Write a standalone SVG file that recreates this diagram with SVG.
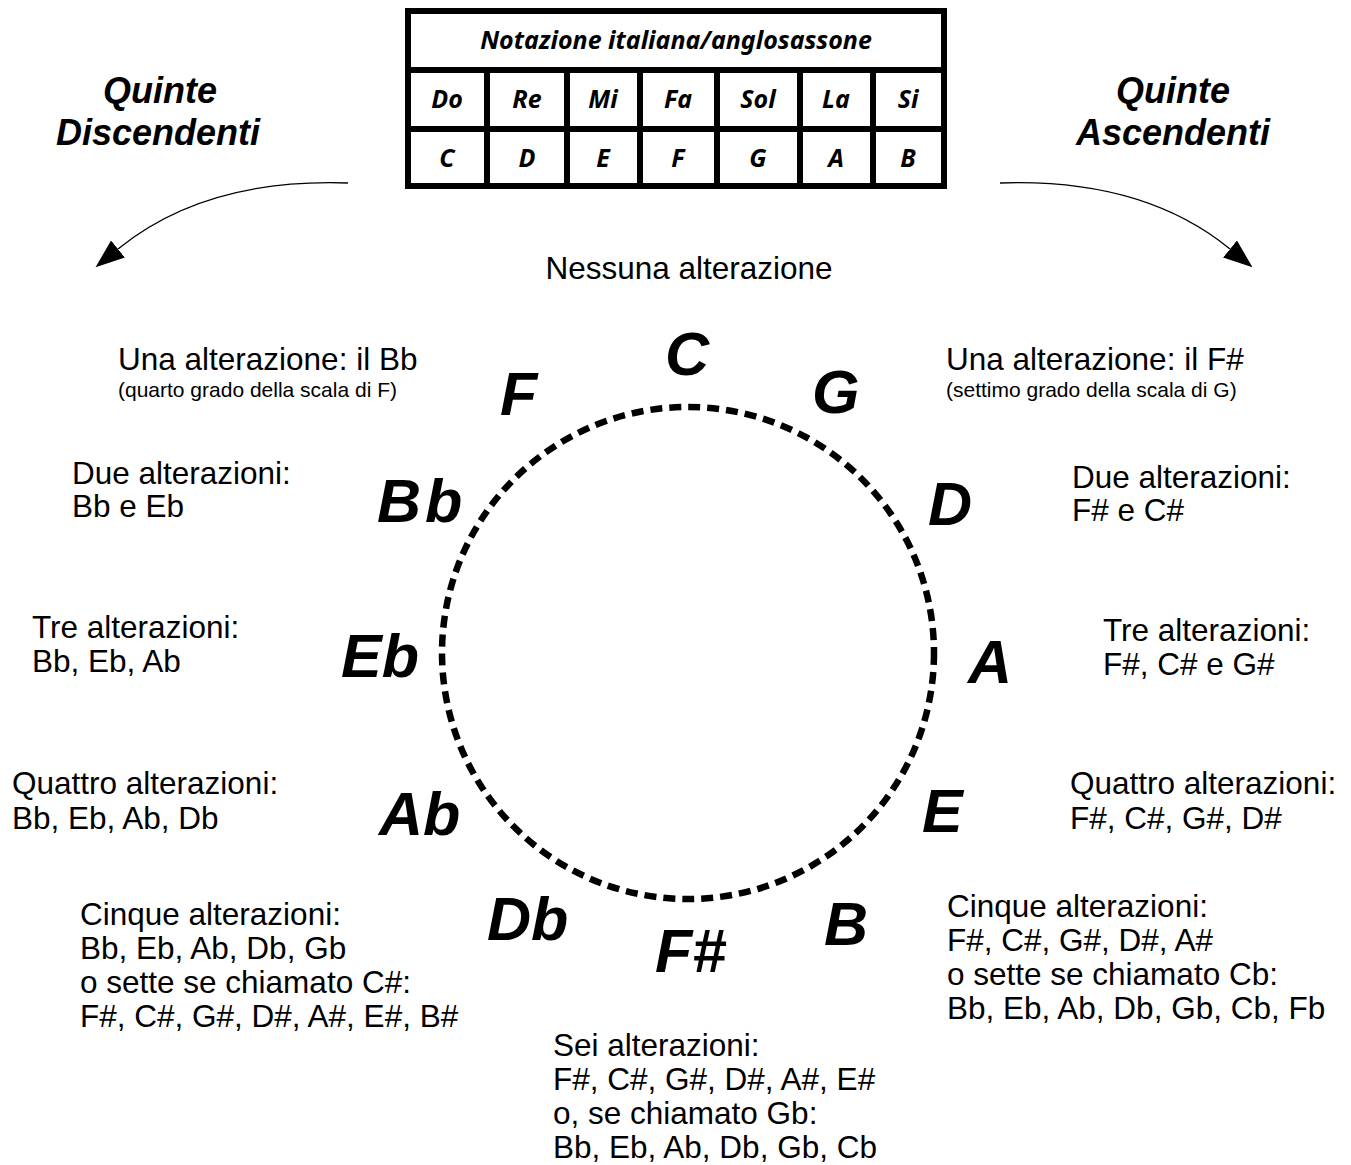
<svg xmlns="http://www.w3.org/2000/svg" width="1351" height="1165" viewBox="0 0 1351 1165">
<style>
.body{font-family:"Liberation Sans",Arial,sans-serif;font-size:31.5px;fill:#000}
.small{font-family:"Liberation Sans",Arial,sans-serif;font-size:21px;fill:#000}
.title{font-family:"Liberation Sans",Arial,sans-serif;font-size:36px;font-weight:bold;font-style:italic;fill:#000;text-anchor:middle}
.note{font-family:"Liberation Sans",Arial,sans-serif;font-size:61px;font-weight:bold;font-style:italic;fill:#000}
.tab{font-family:"Noto Sans","Open Sans",sans-serif;font-size:25px;font-weight:bold;font-style:italic;fill:#000;text-anchor:middle}
.grid{stroke:#000;stroke-width:6;fill:none}
.conn{stroke:#000;stroke-width:1.3;fill:none}
</style>
<defs>
<marker id="ah" markerUnits="userSpaceOnUse" markerWidth="32" markerHeight="26" refX="0" refY="11" orient="auto">
<path d="M0,0 L29,11 L0,22 z" fill="#000"/>
</marker>
</defs>
<rect width="1351" height="1165" fill="#fff"/>

<g id="table">
<rect class="grid" x="408" y="11" width="536" height="175" fill="#fff"/>
<line class="grid" x1="408" y1="70" x2="944" y2="70"/>
<line class="grid" x1="408" y1="129" x2="944" y2="129"/>
<line class="grid" x1="487" y1="70" x2="487" y2="186"/>
<line class="grid" x1="567" y1="70" x2="567" y2="186"/>
<line class="grid" x1="640" y1="70" x2="640" y2="186"/>
<line class="grid" x1="717" y1="70" x2="717" y2="186"/>
<line class="grid" x1="800" y1="70" x2="800" y2="186"/>
<line class="grid" x1="873" y1="70" x2="873" y2="186"/>
<text class="tab" x="676" y="49">Notazione italiana/anglosassone</text>
<text class="tab" x="447" y="108">Do</text>
<text class="tab" x="527" y="108">Re</text>
<text class="tab" x="603" y="108">Mi</text>
<text class="tab" x="678" y="108">Fa</text>
<text class="tab" x="758" y="108">Sol</text>
<text class="tab" x="836" y="108">La</text>
<text class="tab" x="908" y="108">Si</text>
<text class="tab" x="447" y="167">C</text>
<text class="tab" x="527" y="167">D</text>
<text class="tab" x="603" y="167">E</text>
<text class="tab" x="678" y="167">F</text>
<text class="tab" x="758" y="167">G</text>
<text class="tab" x="836" y="167">A</text>
<text class="tab" x="908" y="167">B</text>
</g>

<g id="title-desc">
<text class="title" x="160" y="103">Quinte</text>
<text class="title" x="158" y="145">Discendenti</text>
</g>
<g id="title-asc">
<text class="title" x="1173" y="103">Quinte</text>
<text class="title" x="1173" y="145">Ascendenti</text>
</g>

<g id="connectors">
<path class="conn" d="M348,183 Q205,178 118,249" marker-end="url(#ah)"/>
<path class="conn" d="M1000,183 Q1143,178 1230,249" marker-end="url(#ah)"/>
</g>

<g id="circle">
<circle cx="688" cy="653" r="246" fill="none" stroke="#000" stroke-width="6.5" stroke-dasharray="12 7"/>
</g>

<g id="notes">
<text class="note" x="665" y="375">C</text>
<text class="note" x="500" y="415">F</text>
<text class="note" x="812" y="413">G</text>
<text class="note" x="377" y="522" letter-spacing="4">Bb</text>
<text class="note" x="928" y="525">D</text>
<text class="note" x="341" y="677">Eb</text>
<text class="note" x="968" y="683">A</text>
<text class="note" x="379" y="835">Ab</text>
<text class="note" x="922" y="832">E</text>
<text class="note" x="487" y="940">Db</text>
<text class="note" x="824" y="945">B</text>
<text class="note" x="655" y="972" font-size="66">F#</text>
</g>

<g id="label-0">
<text class="body" x="689" y="279" text-anchor="middle">Nessuna alterazione</text>
</g>
<g id="label-1-flat">
<text class="body" x="118" y="370">Una alterazione: il Bb</text>
<text class="small" x="118" y="397">(quarto grado della scala di F)</text>
</g>
<g id="label-1-sharp">
<text class="body" x="946" y="370">Una alterazione: il F#</text>
<text class="small" x="946" y="397">(settimo grado della scala di G)</text>
</g>
<g id="label-2-flat">
<text class="body" x="72" y="484">Due alterazioni:</text>
<text class="body" x="72" y="517">Bb e Eb</text>
</g>
<g id="label-2-sharp">
<text class="body" x="1072" y="488">Due alterazioni:</text>
<text class="body" x="1072" y="521">F# e C#</text>
</g>
<g id="label-3-flat">
<text class="body" x="32" y="638">Tre alterazioni:</text>
<text class="body" x="32" y="672">Bb, Eb, Ab</text>
</g>
<g id="label-3-sharp">
<text class="body" x="1103" y="641">Tre alterazioni:</text>
<text class="body" x="1103" y="675">F#, C# e G#</text>
</g>
<g id="label-4-flat">
<text class="body" x="12" y="794">Quattro alterazioni:</text>
<text class="body" x="12" y="829">Bb, Eb, Ab, Db</text>
</g>
<g id="label-4-sharp">
<text class="body" x="1070" y="794">Quattro alterazioni:</text>
<text class="body" x="1070" y="829">F#, C#, G#, D#</text>
</g>
<g id="label-5-flat">
<text class="body" x="80" y="925">Cinque alterazioni:</text>
<text class="body" x="80" y="959">Bb, Eb, Ab, Db, Gb</text>
<text class="body" x="80" y="993">o sette se chiamato C#:</text>
<text class="body" x="80" y="1027">F#, C#, G#, D#, A#, E#, B#</text>
</g>
<g id="label-5-sharp">
<text class="body" x="947" y="917">Cinque alterazioni:</text>
<text class="body" x="947" y="951">F#, C#, G#, D#, A#</text>
<text class="body" x="947" y="985">o sette se chiamato Cb:</text>
<text class="body" x="947" y="1019">Bb, Eb, Ab, Db, Gb, Cb, Fb</text>
</g>
<g id="label-6">
<text class="body" x="553" y="1056">Sei alterazioni:</text>
<text class="body" x="553" y="1090">F#, C#, G#, D#, A#, E#</text>
<text class="body" x="553" y="1124">o, se chiamato Gb:</text>
<text class="body" x="553" y="1158">Bb, Eb, Ab, Db, Gb, Cb</text>
</g>
</svg>
